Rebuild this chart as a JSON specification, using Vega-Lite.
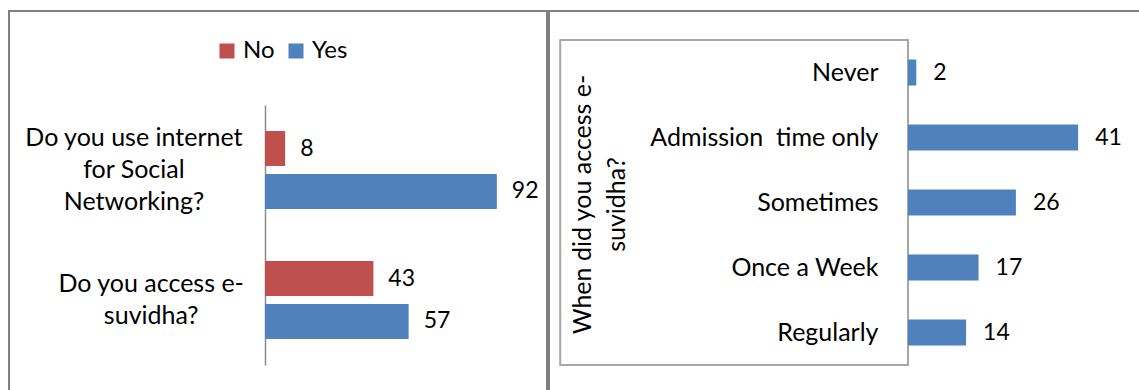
{
  "$schema": "https://vega.github.io/schema/vega-lite/v6.json",
  "padding": {"left": 8, "top": 10, "right": 0, "bottom": 0},
  "spacing": 0,
  "config": {"font": "Lato", "text": {"font": "Lato"}},
  "hconcat": [
    {
      "width": 538,
      "height": 379,
      "view": {"stroke": "#7f7f7f", "strokeWidth": 2, "strokeDash": [917, 538, 379]},
      "data": {"values": [
        {"question": "Do you use internet for Social Networking?", "answer": "No", "value": 8},
        {"question": "Do you use internet for Social Networking?", "answer": "Yes", "value": 92},
        {"question": "Do you access e-suvidha?", "answer": "No", "value": 43},
        {"question": "Do you access e-suvidha?", "answer": "Yes", "value": 57}
      ]},
      "encoding": {
        "x": {"field": "value", "type": "quantitative", "scale": {"domain": [0, 100], "range": [256, 508], "nice": false}, "axis": null},
        "y": {
          "field": "question", "type": "nominal",
          "sort": ["Do you use internet for Social Networking?", "Do you access e-suvidha?"],
          "scale": {"range": [94, 354], "paddingInner": 0.4, "paddingOuter": 0.2},
          "axis": {
            "title": null, "orient": "left", "offset": -256, "ticks": false,
            "domainColor": "#8c8c8c", "domainWidth": 1.5,
            "labelAlign": "center", "labelBaseline": "middle",
            "labelPadding": {"condition": {"test": "datum.value == 'Do you access e-suvidha?'", "value": 114.3}, "value": 131.6},
            "labelOffset": {"condition": {"test": "datum.value == 'Do you access e-suvidha?'", "value": -16}, "value": -32},
            "labelFont": "Lato", "labelFontSize": 25, "labelColor": "#000000", "labelLineHeight": 32, "labelLimit": 0,
            "labelExpr": "datum.value == 'Do you access e-suvidha?' ? ['Do you access e-', 'suvidha?'] : ['Do you use internet', 'for Social', 'Networking?']"
          }
        },
        "yOffset": {"field": "answer", "type": "nominal", "sort": ["No", "Yes"], "scale": {"paddingInner": 0.186}}
      },
      "layer": [
        {
          "mark": {"type": "bar"},
          "encoding": {
            "color": {
              "field": "answer", "type": "nominal",
              "scale": {"domain": ["No", "Yes"], "range": ["#C0504D", "#4F81BD"]},
              "legend": {
                "orient": "none", "legendX": 206, "legendY": 28, "direction": "horizontal", "title": null,
                "symbolType": "square", "symbolSize": 225, "symbolStrokeWidth": 0,
                "labelFont": "Lato", "labelFontSize": 24, "labelColor": "#000000", "labelOffset": 4,
                "columnPadding": 9, "padding": 0
              }
            }
          }
        },
        {
          "mark": {"type": "text", "align": "left", "baseline": "middle", "dx": 15, "fontSize": 23, "font": "Lato", "color": "#000000"},
          "encoding": {"text": {"field": "value", "type": "quantitative"}}
        }
      ]
    },
    {
      "width": 592,
      "height": 379,
      "view": {"stroke": "#7f7f7f", "strokeWidth": 2, "strokeDash": [592, 971, 379]},
      "layer": [
        {
          "data": {"values": [{"box": 1}]},
          "mark": {"type": "rect", "fill": "#ffffff", "fillOpacity": 0, "stroke": "#a6a6a6", "strokeWidth": 2},
          "encoding": {
            "x": {"datum": -83.8, "type": "quantitative", "scale": {"domain": [0, 50], "range": [359, 566.5], "nice": false}, "axis": null},
            "x2": {"datum": 0},
            "y": {"datum": 0, "type": "quantitative", "scale": {"domain": [0, 1], "range": [29, 354]}, "axis": null},
            "y2": {"datum": 1}
          }
        },
        {
          "data": {"values": [
            {"when": "Never", "value": 2},
            {"when": "Admission  time only", "value": 41},
            {"when": "Sometimes", "value": 26},
            {"when": "Once a Week", "value": 17},
            {"when": "Regularly", "value": 14}
          ]},
          "encoding": {
            "x": {"field": "value", "type": "quantitative", "scale": {"domain": [0, 50], "range": [359, 566.5], "nice": false}, "axis": null},
            "y": {
              "field": "when", "type": "nominal",
              "sort": ["Never", "Admission  time only", "Sometimes", "Once a Week", "Regularly"],
              "scale": {"range": [29, 354], "paddingInner": 0.6, "paddingOuter": 0.3},
              "axis": {
                "title": ["When did you access e-", "suvidha?"], "orient": "left", "offset": -359,
                "ticks": false, "domain": false,
                "labelAlign": "right", "labelBaseline": "middle", "labelPadding": 30,
                "labelExpr": "replace(datum.label, '  ', '\u00a0\u00a0')",
                "labelFont": "Lato", "labelFontSize": 25, "labelColor": "#000000", "labelLimit": 0,
                "titleFont": "Lato", "titleFontSize": 25, "titleFontWeight": "normal", "titleColor": "#000000",
                "titleLineHeight": 34, "titleBaseline": "alphabetic", "titleAngle": 270,
                "titleX": -318, "titleY": 193, "titleAlign": "center"
              }
            }
          },
          "layer": [
            {"mark": {"type": "bar", "color": "#4F81BD"}},
            {
              "mark": {"type": "text", "align": "left", "baseline": "middle", "dx": 17, "fontSize": 23, "font": "Lato", "color": "#000000"},
              "encoding": {"text": {"field": "value", "type": "quantitative"}}
            }
          ]
        }
      ],
      "resolve": {"scale": {"y": "independent"}, "axis": {"y": "independent"}}
    }
  ]
}
